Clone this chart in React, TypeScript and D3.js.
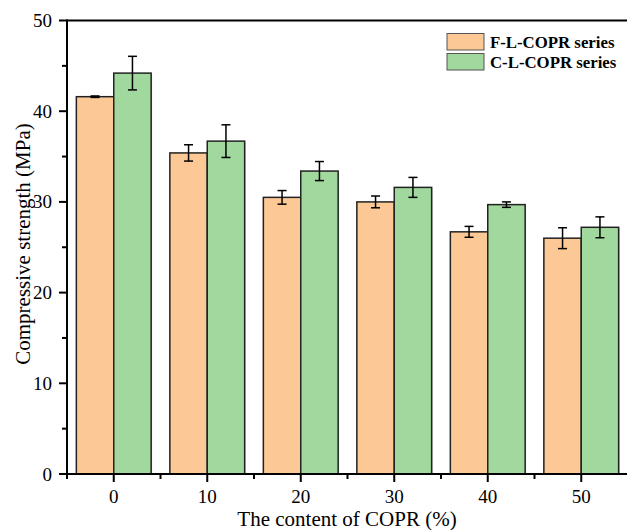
import React from "react";
import * as d3 from "d3";

const categories = [0, 10, 20, 30, 40, 50];
const fValues = [41.6, 35.4, 30.5, 30.0, 26.7, 26.0];
const fErrors = [0.08, 0.9, 0.75, 0.65, 0.6, 1.15];
const cValues = [44.2, 36.7, 33.4, 31.6, 29.7, 27.2];
const cErrors = [1.85, 1.8, 1.05, 1.1, 0.3, 1.15];
const yTicks = [0, 10, 20, 30, 40, 50];
const yMinor = [5, 15, 25, 35, 45];
const xMinor = [-5, 5, 15, 25, 35, 45];
const seriesNames = ["F-L-COPR series", "C-L-COPR series"];
const colors = ["#FCC896", "#A0D89E"];

export default function App() {
  const W = 627, H = 530;
  const left = 67, right = 628, top = 20.5, bottom = 474;
  const x = d3.scaleLinear().domain([-5, 55]).range([left, right]);
  const y = d3.scaleLinear().domain([0, 50]).range([bottom, top]);
  const bw = 4;
  const font = "'Liberation Serif', 'Times New Roman', serif";

  const series = [
    { vals: fValues, errs: fErrors, off: -bw, color: colors[0] },
    { vals: cValues, errs: cErrors, off: 0, color: colors[1] },
  ];

  return (
    <svg width={W} height={H} style={{ position: "absolute", left: 0, top: 0, background: "#fff" }}>
      {series.map((s, si) =>
        categories.map((c, i) => {
          const x0 = x(c + s.off), x1 = x(c + s.off + bw);
          const yt = y(s.vals[i]);
          return (
            <g key={`b${si}-${i}`}>
              <rect x={x0 + 1} y={yt + 1} width={x1 - x0} height={bottom - yt} fill="#9a9a9a" opacity={0.5} />
              <rect x={x0} y={yt} width={x1 - x0} height={bottom - yt} fill={s.color} stroke="#222" strokeWidth={1.5} />
            </g>
          );
        })
      )}
      {series.map((s, si) =>
        categories.map((c, i) => {
          const cx = x(c + s.off + bw / 2);
          const y1 = y(s.vals[i] + s.errs[i]);
          const y2 = y(s.vals[i] - s.errs[i]);
          return (
            <g key={`e${si}-${i}`} stroke="#000" strokeWidth={1.5}>
              <line x1={cx} x2={cx} y1={y1} y2={y2} />
              <line x1={cx - 4.5} x2={cx + 4.5} y1={y1} y2={y1} />
              <line x1={cx - 4.5} x2={cx + 4.5} y1={y2} y2={y2} />
            </g>
          );
        })
      )}
      {/* frame */}
      <line x1={left} x2={W} y1={top} y2={top} stroke="#000" strokeWidth={2} />
      <line x1={left} x2={left} y1={top - 1} y2={bottom + 1} stroke="#000" strokeWidth={2} />
      <line x1={left - 1} x2={W} y1={bottom} y2={bottom} stroke="#000" strokeWidth={2} />
      {/* y ticks */}
      {yTicks.map((t) => (
        <g key={`yt${t}`}>
          <line x1={left - 8} x2={left} y1={y(t)} y2={y(t)} stroke="#000" strokeWidth={2} />
          <text x={left - 15} y={y(t) + 6.5} textAnchor="end" fontFamily={font} fontSize={19}>{t}</text>
        </g>
      ))}
      {yMinor.map((t) => (
        <line key={`ym${t}`} x1={left - 5} x2={left} y1={y(t)} y2={y(t)} stroke="#000" strokeWidth={2} />
      ))}
      {/* x ticks */}
      {categories.map((c) => (
        <g key={`xt${c}`}>
          <line x1={x(c)} x2={x(c)} y1={bottom} y2={bottom + 8} stroke="#000" strokeWidth={2} />
          <text x={x(c)} y={503} textAnchor="middle" fontFamily={font} fontSize={19}>{c}</text>
        </g>
      ))}
      {xMinor.map((c) => (
        <line key={`xm${c}`} x1={x(c)} x2={x(c)} y1={bottom} y2={bottom + 5} stroke="#000" strokeWidth={2} />
      ))}
      <text x={347} y={526} textAnchor="middle" fontFamily={font} fontSize={21}>The content of COPR (%)</text>
      <text transform={`translate(30,244) rotate(-90)`} textAnchor="middle" fontFamily={font} fontSize={21}>
        Compressive strength (MPa)
      </text>
      {/* legend */}
      {seriesNames.map((n, i) => (
        <g key={`lg${i}`}>
          <rect x={447} y={33.5 + i * 20} width={37} height={16.5} fill={colors[i]} stroke="#555" strokeWidth={1} />
          <text x={490} y={47.5 + i * 20} fontFamily={font} fontSize={16.8} fontWeight="bold">{n}</text>
        </g>
      ))}
    </svg>
  );
}
